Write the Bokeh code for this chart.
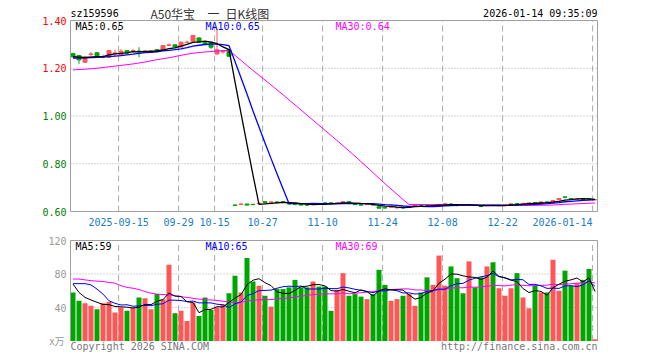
from bokeh.plotting import figure
from bokeh.models import Range1d, Label, ColumnDataSource
from bokeh.embed import file_html
from bokeh.resources import INLINE

# ---------------- data ----------------
code = "sz159596"
name_parts = ["A50华宝", "一", "日K线图"]
stamp = "2026-01-14 09:35:09"

opens = [1.261, 1.253, 1.225, 1.258, 1.265, 1.247, 1.246, 1.262, 1.256, 1.274,
         1.272, 1.272, 1.268, 1.270, 1.278, 1.276, 1.296, 1.298, 1.289, 1.307,
         1.313, 1.327, 1.309, 1.309, 1.260, 1.268, 1.277, 0.627, 0.630, 0.631,
         0.630, 0.633, 0.641, 0.638, 0.640, 0.641, 0.633, 0.631, 0.631, 0.628,
         0.629, 0.634, 0.636, 0.636, 0.634, 0.635, 0.641, 0.630, 0.628, 0.629,
         0.629, 0.620, 0.616, 0.618, 0.615, 0.617, 0.618, 0.623, 0.627, 0.626,
         0.624, 0.625, 0.631, 0.631, 0.626, 0.626, 0.626, 0.626, 0.622, 0.624,
         0.626, 0.624, 0.626, 0.628, 0.633, 0.632, 0.634, 0.637, 0.637, 0.640,
         0.640, 0.649, 0.661, 0.654, 0.650, 0.653, 0.653, 0.649]
highs = [1.265, 1.256, 1.249, 1.268, 1.267, 1.258, 1.276, 1.277, 1.281, 1.276,
         1.280, 1.288, 1.274, 1.276, 1.280, 1.297, 1.303, 1.300, 1.312, 1.316,
         1.340, 1.330, 1.311, 1.311, 1.365, 1.276, 1.280, 0.629, 0.634, 0.633,
         0.632, 0.637, 0.642, 0.642, 0.641, 0.642, 0.635, 0.633, 0.632, 0.630,
         0.633, 0.635, 0.637, 0.637, 0.637, 0.643, 0.642, 0.632, 0.630, 0.632,
         0.630, 0.622, 0.618, 0.622, 0.619, 0.618, 0.622, 0.629, 0.628, 0.627,
         0.627, 0.629, 0.635, 0.633, 0.628, 0.627, 0.629, 0.627, 0.624, 0.627,
         0.627, 0.627, 0.629, 0.633, 0.634, 0.635, 0.637, 0.638, 0.641, 0.641,
         0.647, 0.655, 0.663, 0.655, 0.653, 0.654, 0.654, 0.652]
lows = [1.244, 1.218, 1.222, 1.250, 1.251, 1.241, 1.243, 1.249, 1.252, 1.260,
        1.266, 1.246, 1.266, 1.268, 1.270, 1.274, 1.293, 1.287, 1.287, 1.305,
        1.311, 1.307, 1.300, 1.281, 1.257, 1.262, 1.248, 0.623, 0.628, 0.625,
        0.626, 0.632, 0.636, 0.636, 0.635, 0.636, 0.628, 0.626, 0.625, 0.624,
        0.628, 0.631, 0.633, 0.633, 0.633, 0.634, 0.635, 0.627, 0.624, 0.628,
        0.626, 0.612, 0.612, 0.617, 0.614, 0.613, 0.617, 0.622, 0.624, 0.623,
        0.623, 0.624, 0.630, 0.627, 0.621, 0.624, 0.625, 0.624, 0.618, 0.623,
        0.623, 0.623, 0.625, 0.627, 0.630, 0.631, 0.633, 0.634, 0.636, 0.637,
        0.639, 0.648, 0.655, 0.650, 0.649, 0.650, 0.650, 0.648]
closes = [1.248, 1.235, 1.246, 1.260, 1.253, 1.249, 1.274, 1.264, 1.271, 1.264,
          1.274, 1.270, 1.272, 1.273, 1.272, 1.295, 1.298, 1.289, 1.309, 1.309,
          1.337, 1.309, 1.303, 1.288, 1.277, 1.272, 1.250, 0.626, 0.631, 0.627,
          0.629, 0.635, 0.638, 0.640, 0.637, 0.639, 0.632, 0.630, 0.627, 0.627,
          0.631, 0.633, 0.634, 0.635, 0.636, 0.641, 0.636, 0.629, 0.627, 0.631,
          0.627, 0.614, 0.615, 0.620, 0.617, 0.615, 0.621, 0.628, 0.625, 0.625,
          0.626, 0.628, 0.632, 0.630, 0.625, 0.625, 0.628, 0.625, 0.621, 0.625,
          0.625, 0.626, 0.628, 0.632, 0.632, 0.634, 0.636, 0.636, 0.640, 0.638,
          0.646, 0.654, 0.660, 0.652, 0.651, 0.651, 0.652, 0.650]
volumes = [58, 48, 45, 42, 38, 45, 47, 34, 40, 36,
           40, 52, 51, 38, 56, 50, 91, 33, 36, 24,
           46, 30, 52, 37, 40, 44, 57, 78, 58, 99,
           71, 66, 54, 41, 62, 62, 64, 73, 64, 64,
           71, 65, 65, 36, 61, 81, 54, 56, 53, 50,
           56, 85, 67, 48, 50, 54, 56, 42, 58, 76,
           67, 102, 66, 89, 75, 57, 95, 64, 76, 89,
           94, 63, 54, 63, 81, 52, 39, 66, 58, 58,
           97, 60, 84, 66, 69, 73, 86, 2]

# moving-average values before enough bars are visible
ma5_head = [1.249, 1.247, 1.245, 1.247]
ma10_head = [1.243, 1.243, 1.244, 1.245, 1.246, 1.247, 1.249, 1.251, 1.253]
ma30_head = [1.193, 1.195, 1.196, 1.198, 1.200, 1.203, 1.206, 1.209, 1.212, 1.215,
             1.218, 1.222, 1.226, 1.231, 1.236, 1.240, 1.244, 1.249, 1.254, 1.259,
             1.263, 1.266, 1.268, 1.270, 1.272, 1.274, 1.275, 1.254, 1.233]
vma5_head = [68, 58, 52, 49]
vma10_head = [68.5, 68.5, 68.5, 67, 62, 56, 48, 45, 43]
vma30_head = [74, 74, 73, 72, 71.5, 71, 70, 69, 66, 64,
              63, 61.5, 59, 57, 56, 55.5, 55, 54, 53, 52,
              51, 50, 49.5, 49, 48.5, 47.5, 46.5, 45.5, 46]

tick_idx = [8, 18, 24, 32, 42, 52, 62, 72, 87]
tick_labels = ["2025-09-15", "09-29", "10-15", "10-27", "11-10", "11-24", "12-08", "12-22", "2026-01-14"]
price_ticks = [1.40, 1.20, 1.00, 0.80, 0.60]
price_tick_labels = ["1.40", "1.20", "1.00", "0.80", "0.60"]
vol_ticks = [120, 80, 40]
vol_tick_labels = ["120", "80", "40"]
vol_unit = "x万"
copyright_text = "Copyright 2026 SINA.COM"
url_text = "http://finance.sina.com.cn"


def moving(vals, win, head):
    out = list(head)
    for i in range(len(head), len(vals)):
        out.append(sum(vals[i - win + 1:i + 1]) / win)
    return out


n = len(closes)
xs = list(range(n))
ma5 = moving(closes, 5, ma5_head)
ma10 = moving(closes, 10, ma10_head)
ma30 = moving(closes, 30, ma30_head)
vma5 = moving(volumes, 5, vma5_head)
vma10 = moving(volumes, 10, vma10_head)
vma30 = moving(volumes, 30, vma30_head)

# ---------------- geometry (pixels from the figure's top-left) ----------------
W, H = 656, 356
X0, DX = 72.5, 6.0
P_LO, P_HI, P_YLO, P_YHI = 0.60, 1.40, 211.0, 20.0
V_HI, V_YHI, V_Y0 = 120.0, 240.0, 340.5
PK = (P_HI - P_LO) / (P_YLO - P_YHI)
VK = V_HI / (V_Y0 - V_YHI)


def dx(X):
    return (X - X0) / DX


def dp(Y):
    return P_LO + (P_YLO - Y) * PK


def dv(Y):
    return (V_Y0 - Y) * VK


RED = "#ff5656"
GREEN = "#00a600"
BLUE = "#0000ff"
MAG = "#ff00ff"
GRID = "#aaaaaa"
FRAME = "#a0a0a0"
MONO = "DejaVu Sans Mono"

p = figure(width=W, height=H, output_backend="svg", toolbar_location=None,
           x_range=Range1d(dx(0), dx(W)), y_range=Range1d(dp(H), dp(0)),
           x_axis_location=None, y_axis_location=None,
           min_border_left=0, min_border_right=0, min_border_top=0, min_border_bottom=0)
p.extra_y_ranges = {"vol": Range1d(dv(H), dv(0))}
p.title.visible = False
p.outline_line_color = None
p.grid.visible = False
p.background_fill_color = "white"
p.border_fill_color = "white"

# gridlines
left_edge, right_edge = dx(70), dx(597)
hp = [t for t in price_ticks if P_LO < t < P_HI]
p.segment(x0=[left_edge] * len(hp), x1=[right_edge] * len(hp), y0=hp, y1=hp,
          line_color=GRID, line_dash="1 2", line_width=1)
hv = [t for t in vol_ticks if t < V_HI]
p.segment(x0=[left_edge] * len(hv), x1=[right_edge] * len(hv), y0=hv, y1=hv,
          line_color=GRID, line_dash="1 2", line_width=1, y_range_name="vol")
gx = [i - 0.4 for i in tick_idx]
p.segment(x0=gx, x1=gx, y0=[P_LO] * len(gx), y1=[P_HI] * len(gx),
          line_color=GRID, line_dash="6 4", line_width=1)
p.segment(x0=gx, x1=gx, y0=[0] * len(gx), y1=[V_HI] * len(gx),
          line_color=GRID, line_dash="6 4", line_width=1, y_range_name="vol")

# candles
colors = [RED if c >= o else GREEN for o, c in zip(opens, closes)]
src = ColumnDataSource(dict(x=xs, o=opens, h=highs, l=lows, c=closes,
                            top=[max(o, c) for o, c in zip(opens, closes)],
                            bot=[min(o, c) for o, c in zip(opens, closes)],
                            v=volumes, col=colors))
p.segment(x0="x", x1="x", y0="h", y1="l", line_color="col", line_width=1, source=src)
p.vbar(x="x", top="top", bottom="bot", width=4 / 6, fill_color="col", line_color="col",
       line_width=1, source=src)

# price MAs
p.line(xs, ma30, line_color=MAG, line_width=1)
p.line(xs, ma10, line_color=BLUE, line_width=1.3)
p.line(xs, ma5, line_color="black", line_width=1.3)

# volume
p.vbar(x="x", top="v", bottom=0, width=5 / 6, fill_color="col", line_color=None,
       source=src, y_range_name="vol")
p.line(xs, vma30, line_color=MAG, line_width=1, y_range_name="vol")
p.line(xs, vma10, line_color=BLUE, line_width=1, y_range_name="vol")
p.line(xs, vma5, line_color="black", line_width=1, y_range_name="vol")

# panel frames
p.multi_line(xs=[[left_edge, right_edge, right_edge, left_edge, left_edge]],
             ys=[[P_LO, P_LO, P_HI, P_HI, P_LO]], line_color=FRAME, line_width=1)
p.multi_line(xs=[[left_edge, left_edge, right_edge, right_edge]],
             ys=[[0, V_HI, V_HI, 0]], line_color=FRAME, line_width=1, y_range_name="vol")


def txt(X, Y, s, color, align="left", font=MONO, size="10px"):
    p.add_layout(Label(x=dx(X), y=dp(Y), text=s, text_color=color, text_align=align,
                       text_baseline="middle", text_font=font, text_font_size=size))


# header
txt(70, 12.5, code, "black")
txt(150, 13, name_parts[0], "#333333", font="Noto Sans CJK SC", size="12px")
txt(207, 13, name_parts[1], "#333333", font="Noto Sans CJK SC", size="12px")
txt(225, 13, name_parts[2], "#333333", font="Noto Sans CJK SC", size="12px")
txt(597, 13, stamp, "black", align="right")

# MA legends
txt(75, 26, f"MA5:{ma5[-1]:.2f}", "black")
txt(205, 26, f"MA10:{ma10[-1]:.2f}", BLUE)
txt(335, 26, f"MA30:{ma30[-1]:.2f}", MAG)
txt(75, 246, f"MA5:{round(vma5[-1])}", "black")
txt(205, 246, f"MA10:{round(vma10[-1])}", BLUE)
txt(335, 246, f"MA30:{round(vma30[-1])}", MAG)

# price axis labels
for t, s in zip(price_ticks, price_tick_labels):
    Y = P_YLO - (t - P_LO) / PK
    txt(66, Y, s, "#ff0000" if t >= 1.2 else "#008000", align="right")
for t, s in zip(vol_ticks, vol_tick_labels):
    Y = V_Y0 - t / VK
    txt(66, Y, s, "#999999", align="right")
txt(64, 340, vol_unit, "#999999", align="right", font="Noto Sans CJK SC", size="10px")

# date labels
for k, (i, s) in enumerate(zip(tick_idx, tick_labels)):
    X = X0 + (i - 0.4) * DX
    if k == len(tick_idx) - 1:
        txt(X, 221.5, s, "#1a7cc9", align="right")
    else:
        txt(X, 221.5, s, "#1a7cc9", align="center")

# footer
txt(70, 345.5, copyright_text, "#777777")
txt(597, 345.5, url_text, "#777777", align="right")

open("out.html", "w").write(file_html(p, INLINE))
